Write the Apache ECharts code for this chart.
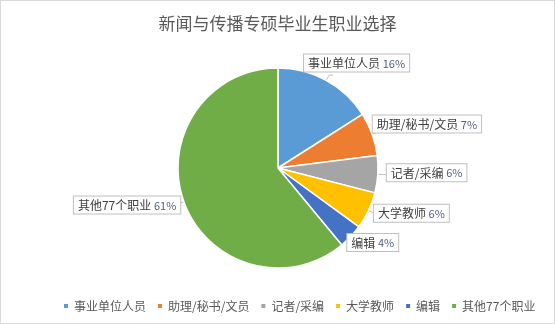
<!DOCTYPE html>
<html>
<head>
<meta charset="utf-8">
<script src="https://cdn.jsdelivr.net/npm/echarts@6/dist/echarts.min.js"></script>
<style>
  html, body { margin: 0; padding: 0; background: #fff; }
  #chart { width: 553px; height: 322px; border: 1px solid #d9d9d9; }
</style>
</head>
<body>
<div id="chart"></div>
<script>
var titleText = '新闻与传播专硕毕业生职业选择';
var categories = ['事业单位人员', '助理/秘书/文员', '记者/采编', '大学教师', '编辑', '其他77个职业'];
var shares = [16, 7, 6, 6, 4, 61];
var colors = ['#5b9bd5', '#ed7d31', '#a5a5a5', '#ffc000', '#4472c4', '#70ad47'];

var pieData = [];
for (var i = 0; i < categories.length; i++) {
	pieData.push({ name: categories[i], value: shares[i] });
}

// small nudges so the callouts sit where the original ones do
var nudge = [[-34, -12], [-14, -8], [-6, -2], [-9, 0], [-17, 2], [11, 1]];

var chart = echarts.init(document.getElementById('chart'));
var option = {
	    color: colors,
	    textStyle: {
	        fontFamily: '"Noto Sans CJK SC", "Noto Sans", sans-serif'
	    },
	    title: {
	        text: titleText,
	        left: 'center',
	        top: 9,
	        textStyle: {
	            fontSize: 17,
	            fontWeight: 'normal',
	            color: '#595959'
	        }
	    },
	    legend: {
	        bottom: 6,
	        left: 56,
	        icon: 'rect',
	        itemWidth: 6,
	        itemHeight: 6,
	        itemGap: 10,
	        textStyle: {
	            fontSize: 12,
	            color: '#595959'
	        },
	        data: categories
	    },
	    series: [{
	        type: 'pie',
	        center: [277, 167],
	        radius: 100,
	        startAngle: 90,
	        clockwise: true,
	        itemStyle: {
	            borderColor: '#fff',
	            borderWidth: 1.5
	        },
	        label: {
	            show: true,
	            position: 'outside',
	            formatter: '{n|{b}} {p|{d}%}',
	            backgroundColor: '#fff',
	            borderColor: '#bfbfbf',
	            borderWidth: 1,
	            padding: [3, 4, 2, 4],
	            rich: {
	                n: { fontSize: 12, color: '#404040' },
	                p: { fontSize: 11, color: '#4e5f80' }
	            }
	        },
	        labelLine: {
	            show: true,
	            length: 6,
	            length2: 4,
	            lineStyle: { color: '#bfbfbf', width: 1 }
	        },
	        labelLayout: function(params) {
	            var d = nudge[params.dataIndex];
	            return { dx: d[0], dy: d[1] };
	        },
	        emphasis: { disabled: true },
	        data: pieData
	    }]
};
chart.setOption(option);
</script>
</body>
</html>
